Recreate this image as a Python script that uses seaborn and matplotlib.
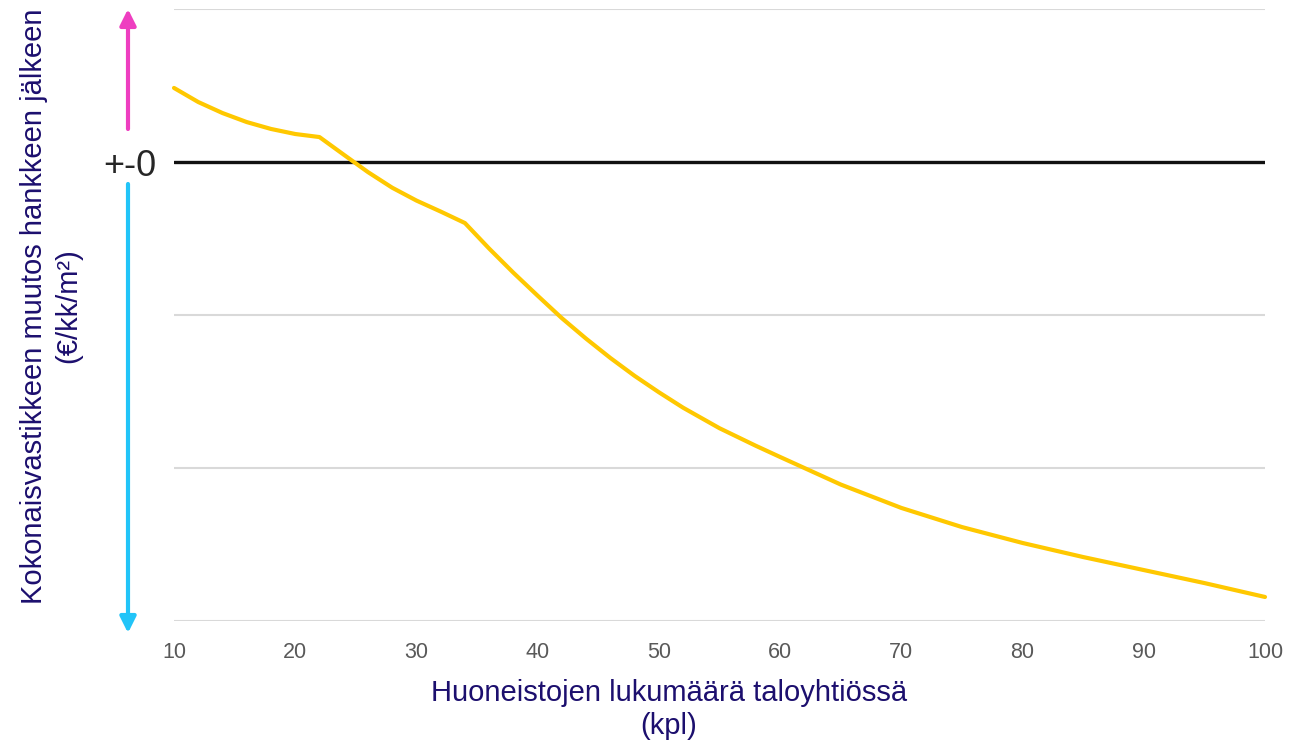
import matplotlib
matplotlib.use("Agg")
import matplotlib.pyplot as plt
import seaborn as sns
import pandas as pd

# Values (y in gridline steps, 0 = no change)
apartments = [10, 12, 14, 16, 18, 20, 22, 24, 26, 28, 30, 32, 34, 36, 38, 40,
              42, 44, 46, 48, 50, 52, 55, 58, 60, 65, 70, 75, 80, 85, 90, 95,
              100]
cost_change = [0.484, 0.392, 0.320, 0.261, 0.216, 0.183, 0.163, 0.048, -0.066,
               -0.168, -0.252, -0.324, -0.399, -0.566, -0.724, -0.874, -1.021,
               -1.155, -1.281, -1.398, -1.505, -1.606, -1.740, -1.855, -1.928,
               -2.108, -2.261, -2.386, -2.490, -2.582, -2.667, -2.752, -2.843]
x_ticks = [10, 20, 30, 40, 50, 60, 70, 80, 90, 100]
y_ticks = [-3, -2, -1, 0, 1]
y_tick_labels = ["", "", "", "+-0", ""]

x_label = "Huoneistojen lukumäärä taloyhtiössä\n(kpl)"
y_label = "Kokonaisvastikkeen muutos hankkeen jälkeen\n(€/kk/m²)"

sns.set_theme(style="white")
plt.rcParams["font.family"] = ["Liberation Sans", "DejaVu Sans"]

W, H = 1309, 741
fig = plt.figure(figsize=(W / 100, H / 100), dpi=100)
ax = fig.add_axes([174 / W, 1 - 621 / H, (1265 - 174) / W, (621 - 9) / H])

df = pd.DataFrame({"x": apartments, "y": cost_change})

ax.set_yticks(y_ticks)
ax.set_yticklabels(y_tick_labels)
ax.set_xticks(x_ticks)
ax.set_xlim(10, 100)
ax.set_ylim(-3, 1)
ax.grid(axis="y", color="#d9d9d9", linewidth=1.5)
ax.grid(axis="x", visible=False)
ax.axhline(0, color="#111111", linewidth=2.4, zorder=2)

sns.lineplot(data=df, x="x", y="y", ax=ax, color="#ffc800", linewidth=3,
             zorder=3, clip_on=False)

for s in ax.spines.values():
    s.set_visible(False)
ax.tick_params(axis="x", length=0, pad=15, labelsize=15.5, labelcolor="#595959")
ax.tick_params(axis="y", length=0, pad=13, labelsize=26, labelcolor="#262626")
ax.set_xlabel("")
ax.set_ylabel("")

label_color = "#1c0f6e"
fig.text(669 / W, 1 - 679 / H, x_label, ha="center", va="top",
         fontsize=21, color=label_color, linespacing=1.25)
fig.text(51 / W, 1 - 306 / H, y_label, ha="center", va="center",
         rotation=90, fontsize=21, color=label_color, linespacing=1.3)

# direction arrows next to the zero label
ax.annotate("", xy=(128 / W, 1 - 9 / H), xytext=(128 / W, 1 - 129 / H),
            xycoords="figure fraction", textcoords="figure fraction",
            arrowprops=dict(arrowstyle="-|>", color="#ee3ec0", lw=3,
                            mutation_scale=24, shrinkA=0, shrinkB=0))
ax.annotate("", xy=(128 / W, 1 - 633 / H), xytext=(128 / W, 1 - 184 / H),
            xycoords="figure fraction", textcoords="figure fraction",
            arrowprops=dict(arrowstyle="-|>", color="#22c4f8", lw=3,
                            mutation_scale=24, shrinkA=0, shrinkB=0))

fig.savefig("out.png", dpi=100, facecolor="white")
